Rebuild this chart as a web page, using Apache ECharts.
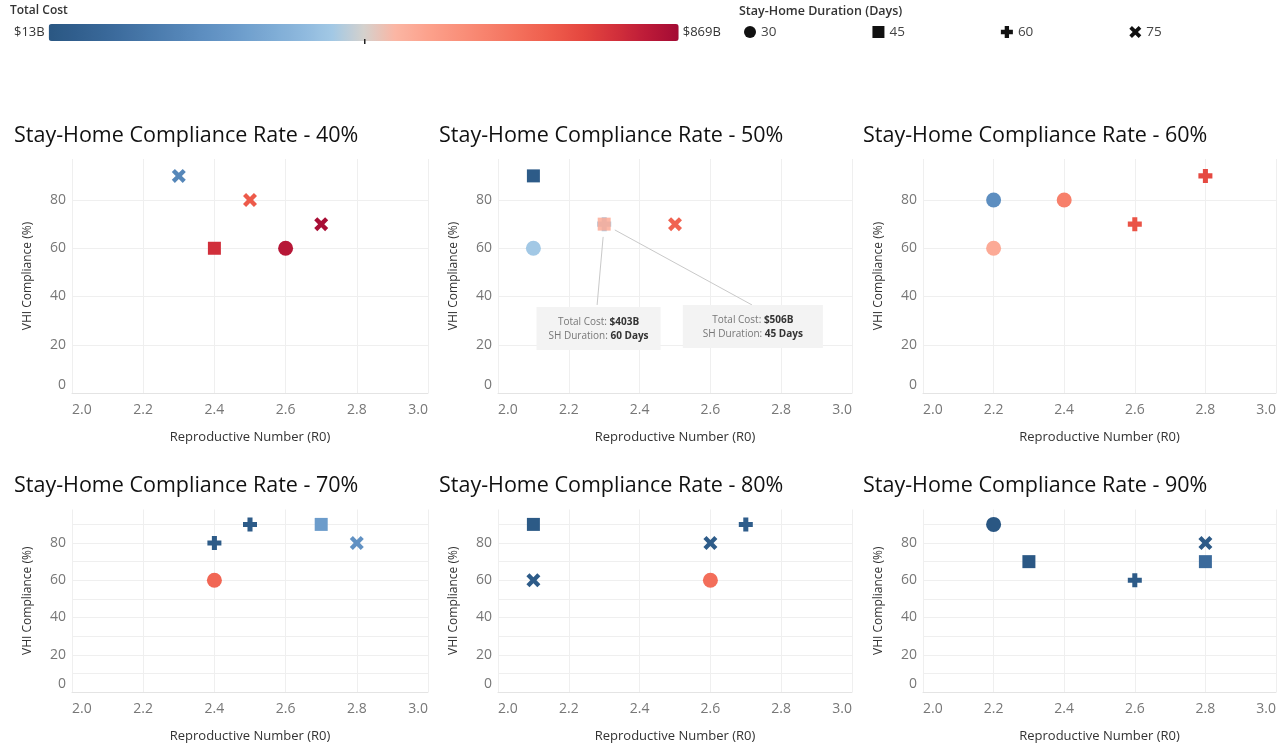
<!DOCTYPE html>
<html><head><meta charset="utf-8">
<script src="https://cdn.jsdelivr.net/npm/echarts@6/dist/echarts.min.js"></script>
<style>html,body{margin:0;padding:0;background:#fff}#c{width:1288px;height:746px}</style>
</head><body><div id="c"></div>
<script>
// ---- data ----
const complianceRates = ['40%', '50%', '60%', '70%', '80%', '90%'];
const durations = [30, 45, 60, 75];
const costRange = [13, 869];
// each point: [R0, VHI compliance %, total cost ($B), stay-home duration (days)]
const rate40 = [[2.3, 90, 200, 75], [2.5, 80, 700, 75], [2.7, 70, 860, 75], [2.4, 60, 785, 45], [2.6, 60, 835, 30]];
const rate50 = [[2.1, 90, 30, 45], [2.1, 60, 398, 30], [2.3, 70, 403, 60], [2.3, 70, 506, 45], [2.5, 70, 680, 75]];
const rate60 = [[2.2, 80, 225, 30], [2.2, 60, 510, 30], [2.4, 80, 612, 30], [2.6, 70, 715, 60], [2.8, 90, 735, 60]];
const rate70 = [[2.4, 80, 30, 60], [2.5, 90, 30, 60], [2.7, 90, 270, 45], [2.8, 80, 235, 75], [2.4, 60, 672, 30]];
const rate80 = [[2.1, 90, 25, 45], [2.1, 60, 30, 75], [2.6, 80, 35, 75], [2.7, 90, 40, 60], [2.6, 60, 655, 30]];
const rate90 = [[2.2, 90, 13, 30], [2.3, 70, 20, 45], [2.6, 60, 30, 60], [2.8, 80, 28, 75], [2.8, 70, 100, 45]];
const panelData = [rate40, rate50, rate60, rate70, rate80, rate90];

// ---- styling ----
const FONT = '"Open Sans", "Noto Sans", sans-serif';
const costColors = ['#2a5783', '#32608f', '#3b6a9b', '#4676a8', '#5283b5', '#5e8fc1', '#6c9ccb', '#7caad4', '#8db8dd', '#a2c8e5',
  '#d4d1cd', '#fbb6a4', '#fca28d', '#fa917b', '#f7806b', '#f36e5a', '#ee5b4b', '#e4463f', '#d2303b', '#bc1a38', '#a30b34'];
const plusPath = 'path://M32,0H68V32H100V68H68V100H32V68H0V32H32Z';
const xPath = 'path://M0,22L22,0L50,28L78,0L100,22L72,50L100,78L78,100L50,72L22,100L0,78L28,50Z';
const symbols = { 30: 'circle', 45: 'rect', 60: plusPath, 75: xPath };
const symbolSizes = { 30: 15, 45: 13, 60: 14, 75: 14 };

const colLeft = [72, 498, 923];
const colWidth = [356, 354, 353];
const rowTop = [159, 509.5];
const rowHeight = [234, 182.5];
const rowMax = [97, 98];
const rowInterval = [20, 10];
const titleTop = [125, 475];
const titleLeft = [14, 439, 863];

const grids = [], xAxes = [], yAxes = [], titles = [], series = [];
complianceRates.forEach((rate, i) => {
  const r = Math.floor(i / 3), c = i % 3;
  grids.push({ left: colLeft[c], top: rowTop[r], width: colWidth[c], height: rowHeight[r] });
  titles.push({
    text: 'Stay-Home Compliance Rate - ' + rate, left: titleLeft[c], top: titleTop[r], padding: 0,
    textStyle: { fontFamily: FONT, fontSize: 21.5, fontWeight: 500, color: '#111' }
  });
  xAxes.push({
    type: 'value', gridIndex: i, min: 2, max: 3, interval: 0.2,
    name: 'Reproductive Number (R0)', nameLocation: 'middle', nameGap: 38,
    nameTextStyle: { fontFamily: FONT, fontSize: 13, color: '#333', fontWeight: 500 },
    axisLine: { show: true, lineStyle: { color: '#e4e4e4' } },
    axisTick: { show: false },
    axisLabel: {
      margin: 10, fontFamily: FONT, fontSize: 14, color: '#777',
      formatter: v => v.toFixed(1), alignMinLabel: 'left', alignMaxLabel: 'right'
    },
    splitLine: { show: true, lineStyle: { color: '#efefef' } }
  });
  yAxes.push({
    type: 'value', gridIndex: i, min: 0, max: rowMax[r], interval: rowInterval[r],
    name: 'VHI Compliance (%)', nameLocation: 'middle', nameGap: 38,
    nameTextStyle: { fontFamily: FONT, fontSize: 12, color: '#333', fontWeight: 500 },
    axisLine: { show: false }, axisTick: { show: false },
    axisLabel: {
      margin: 6, fontFamily: FONT, fontSize: 14, color: '#777',
      formatter: v => (v % 20 !== 0 || v > 90) ? '' : (v === 0 ? '{z|0}' : String(v)),
      rich: { z: { padding: [0, 0, 16, 0], fontFamily: FONT, fontSize: 14, color: '#777' } }
    },
    splitLine: { show: true, showMaxLine: false, lineStyle: { color: '#efefef' } }
  });
  durations.forEach(d => {
    const pts = panelData[i].filter(p => p[3] === d).map(p => {
      // a mark lying on top of another mark at the same spot is drawn slightly see-through
      const overlaps = panelData[i].some(q => q !== p && q[0] === p[0] && q[1] === p[1]);
      return overlaps && d === 45 ? { value: p, itemStyle: { opacity: 0.85 } } : p;
    });
    series.push({
      type: 'scatter', name: String(d), xAxisIndex: i, yAxisIndex: i,
      symbol: symbols[d], symbolSize: symbolSizes[d], z: d === 45 ? 3 : 2,
      itemStyle: { opacity: 1 },
      data: pts
    });
  });
});

// Annotations on the 50% panel (tooltips pinned by the author)
const ann = rate50.filter(p => p[0] === 2.3 && p[1] === 70);
const annText = p => '{a|Total Cost: }{b|$' + p[2] + 'B}\n{a|SH Duration: }{b|' + p[3] + ' Days}';
const annHost = series.find(s => s.xAxisIndex === 1 && s.name === '45');
annHost.markLine = {
  silent: true, symbol: ['none', 'none'], label: { show: false },
  lineStyle: { color: '#c9c9c9', width: 1, type: 'solid' }, animation: false,
  data: [
    [{ coord: [2.297, 64.7] }, { coord: [2.280, 36.5] }],
    [{ coord: [2.330, 67.6] }, { coord: [2.7175, 36.5] }]
  ]
};
const annLabel = pad => ({
  show: true, position: 'inside', backgroundColor: '#f3f3f3', padding: [8, pad, 7, pad],
  align: 'center', verticalAlign: 'middle', lineHeight: 14,
  rich: {
    a: { fontFamily: FONT, fontSize: 10, color: '#777', lineHeight: 14 },
    b: { fontFamily: FONT, fontSize: 10, color: '#333', fontWeight: 'bold', lineHeight: 14 }
  }
});
annHost.markPoint = {
  silent: true, symbol: 'circle', symbolSize: 0, animation: false,
  data: [
    { coord: [2.284, 26.7], label: Object.assign(annLabel(12), { formatter: annText(ann[0]) }) },
    { coord: [2.720, 27.6], label: Object.assign(annLabel(20), { formatter: annText(ann[1]) }) }
  ]
};

titles.push({ text: 'Total Cost', left: 10, top: 5, padding: 0, textStyle: { fontFamily: FONT, fontSize: 12, fontWeight: 600, color: '#333' } });
titles.push({ text: 'Stay-Home Duration (Days)', left: 739, top: 5, padding: 0, textStyle: { fontFamily: FONT, fontSize: 12.5, fontWeight: 600, color: '#333' } });

const option = {
  backgroundColor: '#fff',
  animation: false,
  title: titles,
  grid: grids, xAxis: xAxes, yAxis: yAxes, series: series,
  legend: {
    left: 744, top: 25, padding: 0, itemGap: 96, itemWidth: 12, itemHeight: 12, selectedMode: false,
    itemStyle: { color: '#111' },
    textStyle: { fontFamily: FONT, fontSize: 13.5, color: '#444' },
    data: durations.map(d => ({ name: String(d), icon: symbols[d] }))
  },
  visualMap: {
    type: 'continuous', min: costRange[0], max: costRange[1], dimension: 2,
    seriesIndex: series.map((s, k) => k), orient: 'horizontal', left: 14, top: 24, padding: 0,
    itemWidth: 17, itemHeight: 630, calculable: false, hoverLink: false, textGap: 4,
    text: ['$' + costRange[1] + 'B', '$' + costRange[0] + 'B'],
    textStyle: { fontFamily: FONT, fontSize: 13, color: '#333' },
    inRange: { color: costColors }
  },
  graphic: [
    { type: 'rect', left: 364, top: 39, shape: { width: 1.5, height: 5 }, style: { fill: '#222' }, z: 100 }
  ]
};
const chart = echarts.init(document.getElementById('c'), null, { renderer: 'canvas' });
chart.setOption(option);
</script></body></html>
